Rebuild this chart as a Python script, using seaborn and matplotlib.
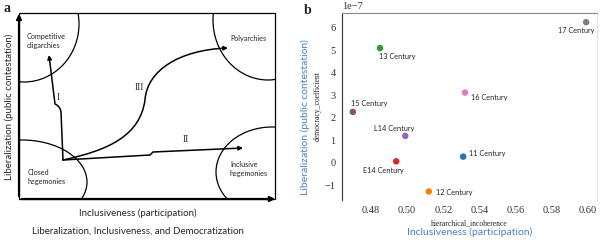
import numpy as np
import pandas as pd
import matplotlib
matplotlib.use("Agg")
import matplotlib.pyplot as plt
import seaborn as sns
from matplotlib.patches import Ellipse, Rectangle, FancyArrowPatch
from matplotlib.path import Path

# ---- panel b data ----
centuries = ['11 Century', '12 Century', '13 Century', 'E14 Century',
             'L14 Century', '15 Century', '16 Century', '17 Century']
incoherence = [0.531, 0.512, 0.485, 0.494, 0.499, 0.470, 0.532, 0.599]
democracy = [0.27, -1.28, 5.10, 0.06, 1.19, 2.26, 3.12, 6.25]   # x 1e-7

# label offsets (pixels, up = positive) and alignment for the annotations
label_dx = [6, 7, -1, -13, -11, -2, 6, -10]
label_dy = [3, -1, -8, -9, 7, 8, -5, -8]
label_ha = ['left', 'left', 'left', 'center', 'center', 'left', 'left', 'center']

# ---- panel a diagram (pixel coords of left half) ----
frame_x = [19, 275]
frame_y = [13, 199]
# regime regions: (cx, cy, rx, ry)
regions = [(24, 24, 55, 58), (22, 182, 65, 42), (268, 20, 55, 60), (272, 172, 56, 45)]
region_names = ['Competitive\noligarchies', 'Closed\nhegemonies', 'Polyarchies', 'Inclusive\nhegemonies']
region_text_xy = [(27, 41), (28, 177), (230, 38), (230, 169)]

path_I = [(63, 160), (61, 112), (60, 106), (55, 104), (49, 55)]
path_II = [(63, 160), (150, 155), (153, 152), (243, 148)]
path_III = [(63, 160), (110, 150), (140, 135), (145, 100), (147, 70), (180, 50), (228, 48)]
path_labels = ['I', 'II', 'III']
path_label_xy = [(58, 98), (186, 140), (139, 87)]

blue = '#4a7fd0'
serif = 'Liberation Serif'
sns.set_style("white")

fig = plt.figure(figsize=(6, 2.4), dpi=100)

# ---------------- panel a ----------------
ax_a = fig.add_axes([0, 0, 0.5, 1])
ax_a.set_xlim(0, 300)
ax_a.set_ylim(240, 0)
ax_a.axis('off')

box = Rectangle((frame_x[0], frame_y[0]), frame_x[1] - frame_x[0], frame_y[1] - frame_y[0],
                fill=False, lw=0.9, ec='black')
ax_a.add_patch(box)
for (cx, cy, rx, ry) in regions:
    e = Ellipse((cx, cy), 2 * rx, 2 * ry, fill=False, lw=0.9, ec='black')
    ax_a.add_patch(e)
    e.set_clip_path(box)

for name, (tx, ty) in zip(region_names, region_text_xy):
    ax_a.text(tx, ty, name, fontsize=5.2, family='Lato', ha='left', va='center',
              linespacing=1.4)

# axes arrows
ax_a.add_patch(FancyArrowPatch((frame_x[0], frame_y[1]), (frame_x[0], frame_y[0] - 2),
                               arrowstyle='-|>', mutation_scale=7, lw=1.6, color='black'))
ax_a.add_patch(FancyArrowPatch((frame_x[0], frame_y[1]), (frame_x[1] + 3, frame_y[1]),
                               arrowstyle='-|>', mutation_scale=7, lw=1.6, color='black'))

# transition paths
p1 = Path(path_I, [Path.MOVETO, Path.LINETO, Path.CURVE3, Path.CURVE3, Path.LINETO])
p2 = Path(path_II, [Path.MOVETO, Path.LINETO, Path.LINETO, Path.LINETO])
p3 = Path(path_III, [Path.MOVETO] + [Path.CURVE4] * 6)
for p in [p1, p2, p3]:
    ax_a.add_patch(FancyArrowPatch(path=p, arrowstyle='-|>', mutation_scale=6,
                                   lw=1.1, color='black'))
for lab, (lx, ly) in zip(path_labels, path_label_xy):
    ax_a.text(lx, ly, lab, fontsize=7, family=serif, ha='center', va='center',
              color='#333333')

ax_a.text(9, 107, 'Liberalization (public contestation)', rotation=90, fontsize=7,
          family='Lato', ha='center', va='center')
ax_a.text(138, 213, 'Inclusiveness (participation)', fontsize=7, family='Lato',
          ha='center', va='center')
ax_a.text(138, 231, 'Liberalization, Inclusiveness, and Democratization', fontsize=7,
          family='Lato', ha='center', va='center')
ax_a.text(3, 9, 'a', fontsize=10, fontweight='bold', family=serif,
          ha='left', va='center')

# ---------------- panel b ----------------
df = pd.DataFrame({'hierarchical_incoherence': incoherence,
                   'democracy_coefficient': np.array(democracy) * 1e-7,
                   'century': centuries})

ax_b = fig.add_axes([342 / 600, 1 - 200 / 240, 255 / 600, 187 / 240])
sns.scatterplot(data=df, x='hierarchical_incoherence', y='democracy_coefficient',
                hue='century', palette='tab10', s=22, edgecolor='none', legend=False, ax=ax_b)
ax_b.set_xlim(0.464, 0.605)
ax_b.set_ylim(-1.66e-7, 6.66e-7)
ax_b.set_xticks(np.arange(0.48, 0.601, 0.02))
ax_b.set_yticks(np.arange(-1, 7) * 1e-7)

for i, name in enumerate(centuries):
    ax_b.annotate(name, (incoherence[i], democracy[i] * 1e-7),
                  xytext=(label_dx[i] * 0.72, label_dy[i] * 0.72),
                  textcoords='offset points', fontsize=5.3, family='Lato',
                  ha=label_ha[i], va='center')

for t in ax_b.get_xticklabels() + ax_b.get_yticklabels():
    t.set_family(serif)
    t.set_fontsize(7.5)
ax_b.yaxis.get_offset_text().set_family(serif)
ax_b.yaxis.get_offset_text().set_fontsize(7.5)
ax_b.tick_params(axis='both', length=2.5, width=0.6, pad=2, colors='#333333')
ax_b.set_xlabel('hierarchical_incoherence', family=serif, fontsize=5.5, labelpad=3)
ax_b.set_ylabel('democracy_coefficient', family=serif, fontsize=5.5, labelpad=2)

ax_b.spines['left'].set_color('#333333')
ax_b.spines['left'].set_linewidth(0.8)
ax_b.spines['top'].set_color('#888888')
ax_b.spines['top'].set_linewidth(0.8)
ax_b.spines['right'].set_color('#e6e6e6')
ax_b.spines['bottom'].set_visible(False)

fig.text(470 / 600, 1 - 232 / 240, 'Inclusiveness (participation)', color=blue, fontsize=7.5,
         family='Lato', ha='center', va='center')
fig.text(305 / 600, 1 - 117 / 240, 'Liberalization (public contestation)', color=blue,
         fontsize=7.5, family='Lato', ha='center', va='center', rotation=90)
fig.text(308 / 600, 1 - 10 / 240, 'b', fontsize=10, fontweight='bold', family=serif,
         ha='center', va='center')

fig.savefig('out.png', dpi=100)
